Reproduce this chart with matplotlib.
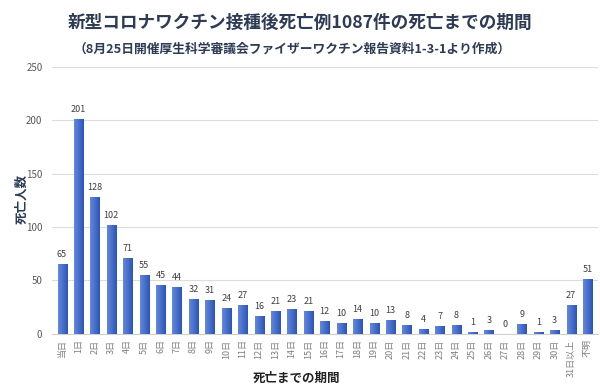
import numpy as np
import matplotlib
matplotlib.use('Agg')
import matplotlib.pyplot as plt
from matplotlib.colors import LinearSegmentedColormap

plt.rcParams['font.family'] = ['Noto Sans CJK JP', 'DejaVu Sans']

# data
days = ['当日'] + [str(i) + '日' for i in range(1, 31)] + ['31日以上', '不明']
deaths = [65, 201, 128, 102, 71, 55, 45, 44, 32, 31, 24, 27, 16, 21, 23, 21,
          12, 10, 14, 10, 13, 8, 4, 7, 8, 1, 3, 0, 9, 1, 3, 27, 51]

title = '新型コロナワクチン接種後死亡例1087件の死亡までの期間'
subtitle = '（8月25日開催厚生科学審議会ファイザーワクチン報告資料1-3-1より作成）'

fig = plt.figure(figsize=(6, 3.9), dpi=100)
ax = fig.add_axes([0.087, 0.144, 0.91, 0.684])

x = np.arange(len(days))
bars = ax.bar(x, deaths, width=0.55, color='#3a63c4', zorder=2)

# horizontal gradient inside each bar (light left, dark right)
cmap = LinearSegmentedColormap.from_list('b', ['#6488dc', '#2b55b8'])
grad = np.linspace(0, 1, 32).reshape(1, -1)
for b in bars:
    h = b.get_height()
    if h <= 0:
        continue
    ax.imshow(grad, cmap=cmap, aspect='auto', zorder=3,
              extent=(b.get_x(), b.get_x() + b.get_width(), 0, h))
    ax.text(b.get_x() + b.get_width() / 2, h + 5, str(int(h)),
            ha='center', va='bottom', fontsize=6.5, color='#404040')
for b in bars:
    if b.get_height() == 0:
        ax.text(b.get_x() + b.get_width() / 2, 5, '0',
                ha='center', va='bottom', fontsize=6.5, color='#404040')

ax.set_xlim(-0.6, len(days) - 0.35)
ax.set_ylim(0, 250)
ax.set_yticks([0, 50, 100, 150, 200, 250])
ax.set_xticks(x)
ax.set_xticklabels(days, rotation=90, fontsize=6.5, color='#7f7f7f')
ax.tick_params(axis='y', labelsize=7, colors='#595959', length=0, pad=7)
ax.tick_params(axis='x', length=0, pad=4)
ax.grid(axis='y', color='#dcdcdc', linewidth=0.8, zorder=0)
for s in ['top', 'right', 'left']:
    ax.spines[s].set_visible(False)
ax.spines['bottom'].set_color('#d0d0d0')

fig.text(0.037, 0.49, '死亡人数', rotation=90, ha='center', va='center',
         fontsize=9, fontweight='bold', color='#2b3a55')
fig.text(0.495, 0.03, '死亡までの期間', ha='center', va='center',
         fontsize=9, fontweight='bold', color='#222222')

fig.text(0.5, 0.94, title, ha='center', va='center', fontsize=12.7,
         fontweight='bold', color='#2e3b55')
fig.text(0.487, 0.875, subtitle, ha='center', va='center', fontsize=9.2,
         fontweight='bold', color='#2e3b55')

fig.savefig('out.png', dpi=100)
